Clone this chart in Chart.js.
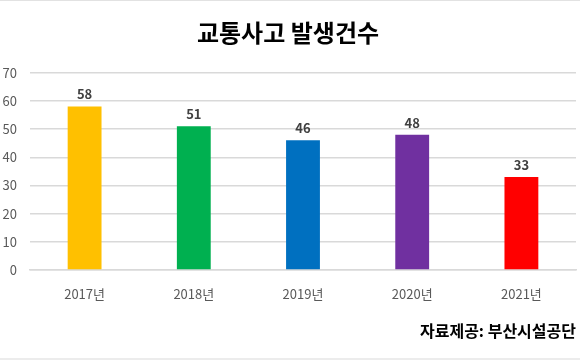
<!DOCTYPE html>
<html><head><meta charset="utf-8">
<script src="https://cdn.jsdelivr.net/npm/chart.js@4.4.1/dist/chart.umd.min.js"></script>
<style>
html,body{margin:0;padding:0;background:#fff;}
#wrap{position:relative;width:580px;height:360px;}
#wrap canvas{position:absolute;left:0;top:0;}
#tb{position:absolute;left:0;top:0;width:580px;height:1px;background:#e2e2e2;}
#bb{position:absolute;left:0;top:358px;width:580px;height:2px;background:#ececec;}
</style></head>
<body><div id="wrap"><canvas id="c" width="580" height="360"></canvas><div id="tb"></div><div id="bb"></div></div>
<script>
const categories = ['2017년','2018년','2019년','2020년','2021년'];
const values = [58, 51, 46, 48, 33];
const barColors = ['#FFC000','#00B050','#0070C0','#7030A0','#FF0000'];
const yTicks = [0,10,20,30,40,50,60,70];
const titleText = '교통사고 발생건수';
const sourceText = '자료제공: 부산시설공단';

const FONT = "'Noto Sans CJK KR','Noto Sans',sans-serif";

const labelPlugin = {
  id:'barLabels',
  afterDatasetsDraw(chart){
    const ctx = chart.ctx;
    const meta = chart.getDatasetMeta(0);
    ctx.save();
    ctx.font = 'bold 13px ' + FONT;
    ctx.fillStyle = '#404040';
    ctx.textAlign = 'center';
    ctx.textBaseline = 'middle';
    meta.data.forEach((bar,i)=>{
      ctx.fillText(String(values[i]), bar.x, bar.y - 12);
    });
    ctx.restore();
  }
};

new Chart(document.getElementById('c'), {
  type:'bar',
  data:{labels:categories, datasets:[{data:values, backgroundColor:barColors, borderWidth:0, barPercentage:0.31, categoryPercentage:1}]},
  options:{
    responsive:false, animation:false, devicePixelRatio:1,
    layout:{padding:{left:0,right:4,top:0,bottom:0}},
    plugins:{
      legend:{display:false}, tooltip:{enabled:false},
      title:{display:true, text:titleText, color:'#000', font:{family:FONT, size:24, weight:'bold'}, padding:{top:18.1,bottom:25.8}},
      subtitle:{display:true, position:'bottom', align:'end', text:sourceText, color:'#000', font:{family:FONT, size:16, weight:'bold'}, padding:{top:3.3,bottom:19.9}}
    },
    scales:{
      x:{
        grid:{display:false, drawTicks:false},
        border:{display:true, color:'#d9d9d9', width:1.5},
        ticks:{color:'#595959', font:{family:FONT, size:13}, padding:16, maxRotation:0}
      },
      y:{
        min:0, max:70,
        afterFit(s){ s.width = 30; },
        afterBuildTicks(s){ s.ticks = yTicks.map(v=>({value:v})); },
        grid:{color:'#d9d9d9', lineWidth:1.5, drawTicks:false},
        border:{display:false},
        ticks:{color:'#595959', font:{family:FONT, size:13}, padding:13}
      }
    }
  },
  plugins:[labelPlugin]
});
</script>
</body></html>
